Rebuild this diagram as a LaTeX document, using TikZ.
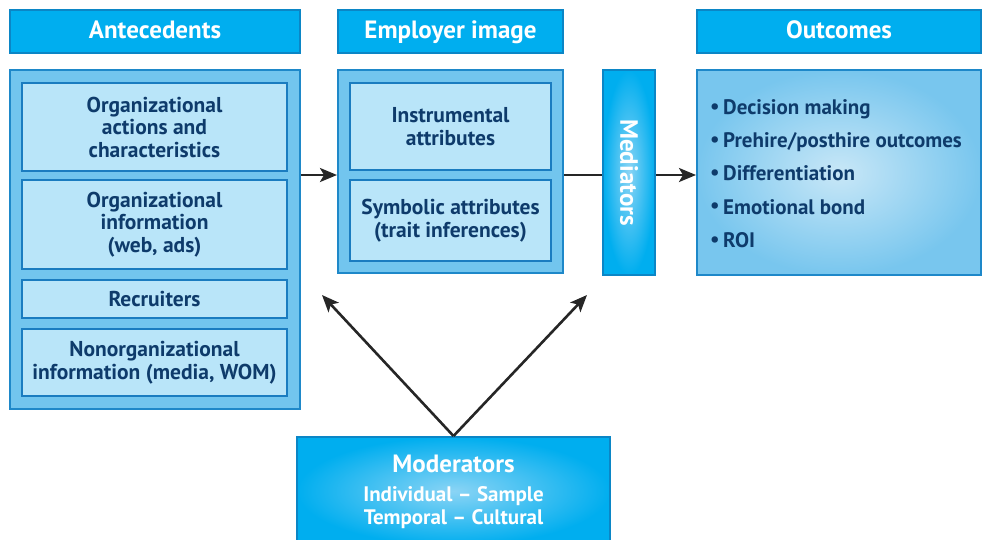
\documentclass[tikz,border=0pt]{standalone}
\usepackage{fontspec}
\setmainfont{PT Sans}
\usetikzlibrary{arrows.meta,calc}
\definecolor{hdr}{HTML}{00AEEF}
\definecolor{hdrb}{HTML}{0B86C6}
\definecolor{outerf}{HTML}{72C5EE}
\definecolor{outerb}{HTML}{1E88C9}
\definecolor{innerf}{HTML}{B9E5F9}
\definecolor{innerb}{HTML}{1A7CC0}
\definecolor{txt}{HTML}{0E3B6B}
\definecolor{glow}{HTML}{8AD4F5}
\definecolor{outc}{HTML}{C8E7F7}
\definecolor{outo}{HTML}{78C6EE}
\tikzset{
  hdrbox/.style={draw=hdrb, line width=2pt, fill=hdr, text=white, font=\fontsize{25}{28}\selectfont\bfseries, inner sep=0pt, text height=18pt, text depth=4pt},
  outerbox/.style={draw=outerb, line width=2pt, fill=outerf, inner sep=0pt},
  innerbox/.style={draw=innerb, line width=2pt, fill=innerf, text=txt, align=center, font=\fontsize{21.5}{22.5}\selectfont\bfseries, inner sep=0pt},
  conn/.style={line width=2.6pt, black!85},
  tip/.style={-{Stealth[length=17pt,width=14pt,inset=4pt]}},
}
\newcommand{\bul}{\raisebox{0.05em}{•}\,}
\begin{document}
\begin{tikzpicture}[x=1pt,y=-1pt]
\useasboundingbox (0,0) rectangle (982,539);
% headers
\node[hdrbox, minimum width=290, minimum height=43] (hA) at (155,31.5) {Antecedents};
\node[hdrbox, minimum width=225, minimum height=43] (hE) at (450.5,31.5) {Employer image};
\node[hdrbox, minimum width=284, minimum height=43] (hO) at (839,31.5) {Outcomes};
% antecedents
\node[outerbox, minimum width=290, minimum height=339] (ante) at (155,239.5) {};
\node[innerbox, minimum width=265, minimum height=88] (a1) at (154.5,127) {Organizational\\actions and\\characteristics};
\node[innerbox, minimum width=265, minimum height=89] (a2) at (154.5,224.5) {Organizational\\information\\(web, ads)};
\node[innerbox, minimum width=265, minimum height=38] (a3) at (154.5,299) {Recruiters};
\node[innerbox, minimum width=265, minimum height=67] (a4) at (154.5,362.5) {Nonorganizational\\information (media, WOM)};
% employer image
\node[outerbox, minimum width=225, minimum height=203] (emp) at (450.5,171.5) {};
\node[innerbox, minimum width=201, minimum height=87] (e1) at (450.5,126.5) {Instrumental\\attributes};
\node[innerbox, minimum width=201, minimum height=81] (e2) at (450.5,220.5) {Symbolic attributes\\(trait inferences)};
% mediators
\node[draw=hdrb, line width=2pt, inner sep=0pt, minimum width=52, minimum height=205,
      shading=radial, inner color=glow, outer color=hdr] (med) at (629,172.5) {};
\node[rotate=-90, text=white, font=\fontsize{25}{28}\selectfont\bfseries] (medt) at (med.center) {Mediators};
% outcomes
\node[draw=outerb, line width=2pt, inner sep=0pt, minimum width=284, minimum height=205,
      shading=radial, inner color=outc, outer color=outo] (out) at (839,172.5) {};
\node[anchor=north west, text=txt, align=left, font=\fontsize{21}{33.3}\selectfont\bfseries, inner sep=0pt] (outt) at (710,99)
  {\bul Decision making\\\bul Prehire/posthire outcomes\\\bul Differentiation\\\bul Emotional bond\\\bul ROI};
% moderators
\node[draw=hdrb, line width=2pt, inner sep=0pt, minimum width=313, minimum height=108,
      shading=radial, inner color=glow, outer color=hdr] (mod) at (453.5,491) {};
\node[text=white, font=\fontsize{25}{28}\selectfont\bfseries] (modt) at (453.5,464) {Moderators};
\node[text=white, align=center, font=\fontsize{21}{23}\selectfont\bfseries] (mods) at (453.5,507.5) {Individual -- Sample\\Temporal -- Cultural};
% connectors
\draw[conn, tip] (ante.east |- 0,175) -- (emp.west |- 0,175);
\draw[conn] (emp.east |- 0,175) -- (med.west |- 0,175);
\draw[conn, tip] (med.east |- 0,175) -- (out.west |- 0,175);
\coordinate (m1) at (322,295);
\coordinate (m2) at (587,295);
\draw[conn, tip] (mod.north) -- (m1);
\draw[conn, tip] (mod.north) -- (m2);
\end{tikzpicture}
\end{document}
